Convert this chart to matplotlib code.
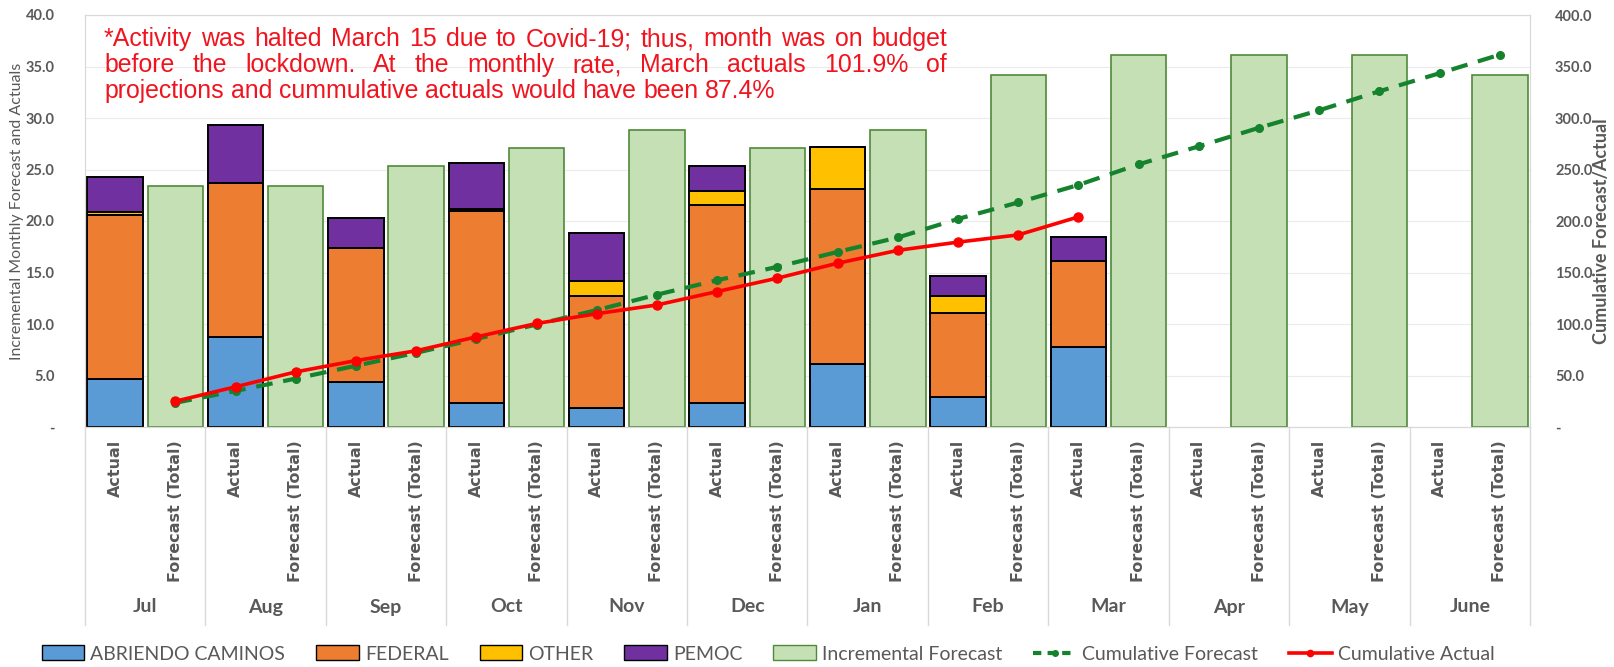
import numpy as np
import matplotlib
matplotlib.use('Agg')
import matplotlib.pyplot as plt
import matplotlib.transforms as mtransforms
from matplotlib.patches import Patch
from matplotlib.lines import Line2D

# monthly values (left axis)
months = ['Jul', 'Aug', 'Sep', 'Oct', 'Nov', 'Dec', 'Jan', 'Feb', 'Mar', 'Apr', 'May', 'June']
abriendo = [4.7, 8.7, 4.4, 2.3, 1.8, 2.3, 6.1, 2.9, 7.8]
federal = [15.9, 15.0, 13.0, 18.7, 10.9, 19.3, 17.0, 8.2, 8.3]
other = [0.3, 0.0, 0.0, 0.2, 1.5, 1.3, 4.1, 1.6, 0.0]
pemoc = [3.4, 5.6, 2.9, 4.4, 4.6, 2.4, 0.0, 2.0, 2.3]
forecast = [23.4, 23.4, 25.3, 27.1, 28.8, 27.1, 28.8, 34.2, 36.1, 36.1, 36.1, 34.2]

# cumulative values (right axis), one per category slot (Actual / Forecast)
nan = np.nan
cum_forecast = [nan, 23.5, 35, 47, 59.5, 72, 85.5, 99.5, 113.5, 128.5, 142.5, 155.5,
                170, 184, 202, 218, 235, 255, 272.5, 290.5, 307.5, 326, 343.5, 361.5]
cum_actual = [nan, 25, 39, 53.5, 64.5, 74, 87.5, 100.5, 110, 118.5, 131.5, 144.5,
              159, 171.5, 179.5, 186.5, 204, nan, nan, nan, nan, nan, nan, nan]

note_lines = ["*Activity was halted March 15 due to Covid-19; thus, month was on budget",
              "before the lockdown.  At the monthly rate, March actuals 101.9% of",
              "projections and cummulative actuals would have been 87.4%"]

CAL = ['Lato', 'DejaVu Sans']
GRAY = '#595959'
LGRAY = '#D9D9D9'
RED = '#F0141E'

W, H = 1614, 667
fig = plt.figure(figsize=(W / 100, H / 100), dpi=100)
ax = fig.add_axes([85 / W, 1 - 427 / H, (1530 - 85) / W, (427 - 15) / H])
ax2 = ax.twinx()

n = len(months)
x_act = np.arange(n) * 2
x_fc = x_act + 1
bw = 0.92

bottom = np.zeros(len(abriendo))
for vals, col in [(abriendo, '#5B9BD5'), (federal, '#ED7D31'),
                  (other, '#FFC000'), (pemoc, '#7030A0')]:
    v = np.array(vals)
    ax.bar(x_act[:len(v)], v, bw, bottom=bottom, color=col,
           edgecolor='black', linewidth=1.4, zorder=2)
    bottom += v
ax.bar(x_fc, forecast, bw, color='#C5E0B4', edgecolor='#4F8A3A', linewidth=1.2, zorder=2)

ax.set_xlim(-0.5, 2 * n - 0.5)
ax.set_ylim(0, 40)
ax2.set_ylim(0, 400)
ax.set_xticks([])
ax.grid(axis='y', color='#EBEBEB', lw=0.8)
ax.set_axisbelow(True)

lt = np.arange(0, 41, 5)
ax.set_yticks(lt)
ax.set_yticklabels(['-' if v == 0 else '%.1f' % v for v in lt],
                   family=CAL, fontweight='bold', fontsize=10.5, color=GRAY)
rt = np.arange(0, 401, 50)
ax2.set_yticks(rt)
ax2.set_yticklabels(['-' if v == 0 else '%.1f' % v for v in rt],
                    family=CAL, fontweight='bold', fontsize=10.5, color=GRAY)
ax.tick_params(axis='y', length=0, pad=22)
ax2.tick_params(axis='y', length=0, pad=18)
for a in (ax, ax2):
    for s in a.spines.values():
        s.set_color(LGRAY)

slots = np.arange(2 * n)
ax2.plot(slots, cum_forecast, color='#15822E', lw=3, ls=(0, (4, 2.6)),
         marker='o', ms=5.5, zorder=4)
ax2.plot(slots, cum_actual, color='#FF0000', lw=2.6, marker='o', ms=6.5, zorder=5)

# axis titles
fig.text(17 / W, 1 - 211 / H, 'Incremental Monthly Forecast and Actuals', rotation=90,
         ha='center', va='center', family=CAL, fontsize=11.5, color=GRAY)
fig.text(1602 / W, 1 - 231 / H, 'Cumulative Forecast/Actual', rotation=90,
         ha='center', va='center', family=CAL, fontsize=13, fontweight='bold', color=GRAY)

# two-level category axis
trans = mtransforms.blended_transform_factory(ax.transData, fig.transFigure)
for i in range(n):
    ax.text(x_act[i], 1 - 440 / H, 'Actual', rotation=90, ha='center', va='top',
            transform=trans, fontsize=11.5, fontweight='bold', color=GRAY)
    ax.text(x_fc[i], 1 - 440 / H, 'Forecast (Total)', rotation=90, ha='center', va='top',
            transform=trans, fontsize=11.5, fontweight='bold', color=GRAY)
    ax.text(x_act[i] + 0.5, 1 - 607 / H, months[i], ha='center', va='center',
            transform=trans, family=CAL, fontsize=14, fontweight='bold', color=GRAY)
for b in np.arange(-0.5, 2 * n, 2):
    ax.plot([b, b], [1 - 427 / H, 1 - 625 / H], transform=trans, color=LGRAY,
            lw=1, clip_on=False)

# legend
handles = [Patch(facecolor='#5B9BD5', edgecolor='black'),
           Patch(facecolor='#ED7D31', edgecolor='black'),
           Patch(facecolor='#FFC000', edgecolor='black'),
           Patch(facecolor='#7030A0', edgecolor='black'),
           Patch(facecolor='#C5E0B4', edgecolor='#4F8A3A'),
           Line2D([], [], color='#15822E', lw=3, ls=(0, (2, 1.5)), marker='o', ms=4),
           Line2D([], [], color='#FF0000', lw=2.6, marker='o', ms=4.5)]
labels = ['ABRIENDO CAMINOS', 'FEDERAL', 'OTHER', 'PEMOC', 'Incremental Forecast',
          'Cumulative Forecast', 'Cumulative Actual']
fig.legend(handles, labels, loc='center', bbox_to_anchor=(768 / W, 1 - 654 / H), ncol=7,
           frameon=False, prop={'family': CAL, 'size': 14}, labelcolor=GRAY,
           handlelength=2.2, handleheight=0.8, columnspacing=1.6, handletextpad=0.3)

# justified note in the top left
renderer = fig.canvas.get_renderer()
x0, x1 = 104, 947
fs = 17.9
for k, (line, yb) in enumerate(zip(note_lines, [46, 72, 98])):
    words = line.split()
    ts = [fig.text(0, 1 - yb / H, w, color=RED, fontsize=fs, family='Liberation Sans',
                   va='baseline') for w in words]
    widths = [t.get_window_extent(renderer).width for t in ts]
    if k < len(note_lines) - 1:
        gap = (x1 - x0 - sum(widths)) / (len(words) - 1)
    else:
        gap = fs * 100 / 72 * 0.278
    x = x0
    for t, w in zip(ts, widths):
        t.set_x(x / W)
        x += w + gap

fig.savefig('out.png', dpi=100)
